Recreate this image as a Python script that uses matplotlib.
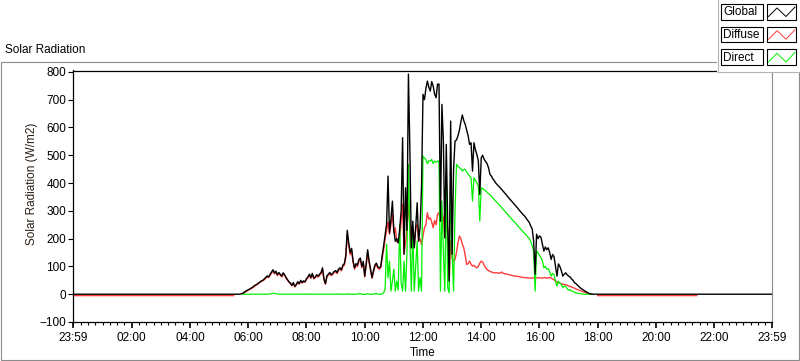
import numpy as np
import matplotlib
matplotlib.use("Agg")
import matplotlib.pyplot as plt
from matplotlib.patches import Rectangle
from matplotlib.lines import Line2D
from matplotlib.ticker import MultipleLocator, FixedLocator

plt.rcParams["font.family"] = ["Liberation Sans", "DejaVu Sans"]
plt.rcParams["font.size"] = 8.5

nan = np.nan

# =========================
# DATA (W/m2)
# =========================
# night before sunrise, hourly
AM_HOURS = [-0.017, 1, 2, 3, 4, 5]
AM_GLOBAL = [0, 0, 0, 0, 0, 0]
AM_DIFFUSE = [-5, -5, -5, -5, -5, -5]
AM_DIRECT = [nan, nan, nan, nan, nan, nan]

# daytime, every 3 minutes from 05:30 to 18:00
DAY_START_H = 5.5
DAY_STEP_MIN = 3

DAY_GLOBAL = [
    # 05:30
    0, 0, 0, 0, 0, 1, 3, 6, 10, 13, 16, 19, 22, 25, 30, 33, 36, 40, 44, 48,
    # 06:30
    50, 55, 60, 66, 62, 72, 80, 88, 76, 83, 70, 78, 72, 65, 77, 70, 60, 52, 45, 40,
    # 07:30
    32, 42, 28, 35, 45, 38, 50, 42, 48, 45, 56, 62, 72, 60, 75, 58, 62, 70, 65, 72,
    # 08:30
    78, 95, 55, 38, 65, 72, 78, 70, 75, 82, 85, 78, 90, 95, 88, 105, 110, 140, 230, 185,
    # 09:30
    150, 165, 120, 95, 110, 105, 125, 130, 100, 118, 65, 110, 160, 120, 90, 60, 85, 105, 112, 98,
    # 10:30
    95, 100, 140, 175, 215, 252, 425, 220, 270, 335, 230, 190, 200, 185, 234, 300, 563, 144, 383, 230,
    # 11:30
    792, 520, 167, 263, 167, 240, 329, 191, 240, 383, 719, 700, 740, 767, 745, 731, 765, 749, 720, 707,
    # 12:30
    756, 756, 263, 683, 550, 203, 539, 250, 47, 623, 144, 450, 551, 555, 570, 590, 620, 645, 625, 611,
    # 13:30
    590, 570, 539, 545, 443, 545, 520, 503, 480, 359, 491, 500, 485, 478, 470, 455, 431, 425, 415, 408,
    # 14:30
    400, 394, 389, 383, 377, 371, 365, 359, 352, 346, 340, 334, 328, 322, 316, 310, 303, 297, 291, 285,
    # 15:30
    280, 272, 265, 258, 245, 235, 191, 72, 216, 200, 210, 205, 180, 155, 170, 160, 167, 150, 125, 143,
    # 16:30
    135, 100, 65, 109, 100, 85, 65, 72, 77, 70, 65, 62, 55, 50, 42, 38, 33, 28, 23, 19,
    # 17:30
    16, 12, 9, 6, 3, 1, 0, 0, 0, 0, 0,
]

DAY_DIFFUSE = [
    # 05:30
    -5, nan, nan, nan, nan, nan, 2, 5, 8, 11, 14, 17, 20, 23, 27, 31, 34, 38, 42, 46,
    # 06:30
    48, 52, 57, 63, 60, 68, 76, 84, 73, 80, 67, 74, 69, 62, 73, 67, 57, 50, 43, 38,
    # 07:30
    30, 39, 26, 33, 42, 36, 47, 40, 45, 43, 53, 59, 68, 57, 71, 55, 59, 66, 62, 68,
    # 08:30
    74, 90, 52, 36, 62, 68, 74, 67, 71, 78, 81, 74, 86, 90, 84, 100, 104, 132, 215, 175,
    # 09:30
    142, 156, 114, 90, 104, 99, 118, 123, 95, 112, 62, 104, 150, 113, 85, 57, 80, 99, 106, 93,
    # 10:30
    90, 95, 130, 160, 200, 227, 260, 216, 250, 288, 220, 239, 190, 185, 200, 260, 323, 144, 185, 230,
    # 11:30
    323, 250, 167, 197, 167, 240, 251, 191, 200, 179, 210, 239, 250, 293, 270, 275, 260, 239, 265, 250,
    # 12:30
    288, 293, 263, 293, 275, 203, 275, 230, 47, 191, 130, 119, 125, 150, 185, 209, 200, 180, 167, 140,
    # 13:30
    107, 110, 119, 108, 101, 104, 98, 95, 100, 112, 119, 115, 105, 95, 89, 85, 82, 80, 78, 77,
    # 14:30
    77, 77, 76, 76, 80, 75, 74, 73, 72, 70, 69, 68, 66, 65, 65, 64, 63, 62, 61, 60,
    # 15:30
    60, 59, 59, 58, 58, 59, 58, 58, 59, 59, 59, 58, 58, 59, 60, 58, 59, 60, 58, 55,
    # 16:30
    52, 48, 44, 41, 40, 38, 36, 35, 34, 32, 30, 28, 26, 24, 22, 19, 17, 15, 13, 11,
    # 17:30
    9, 7, 5, 3, 2, 1, 0, nan, nan, nan, -5,
]

DAY_DIRECT = [
    # 05:30
    nan, nan, nan, nan, nan, nan, 0, 0, 0, 0, 0, 0, 0, 0, 0, 0, 0, 0, 0, 0,
    # 06:30
    0, 0, 0, 0, 0, 1, 2, 3, 3, 2, 1, 0, 0, 0, 0, 0, 0, 0, 0, 0,
    # 07:30
    0, 0, 0, 1, 0, 0, 0, 0, 0, 0, 0, 0, 1, 0, 0, 0, 0, 0, 0, 0,
    # 08:30
    0, 0, 0, 0, 0, 0, 0, 0, 0, 0, 0, 1, 0, 0, 0, 0, 0, 0, 2, 0,
    # 09:30
    0, 0, 0, 0, 0, 0, 2, 2, 0, 0, -1, 0, 2, 0, 0, 0, 0, 2, 2, 0,
    # 10:30
    0, 0, 2, 5, 20, 180, 59, 119, 11, 47, 90, 11, 47, 15, 251, 40, 11, 119, 11, 150,
    # 11:30
    467, 200, 11, 239, 11, 100, 191, 11, 60, 11, 497, 490, 485, 470, 480, 479, 485, 470, 479, 475,
    # 12:30
    479, 479, 11, 335, 150, 11, 431, 23, 5, 400, 155, 11, 300, 467, 461, 455, 452, 443, 449, 449,
    # 13:30
    440, 432, 425, 420, 335, 419, 410, 400, 390, 263, 383, 380, 376, 372, 367, 362, 358, 352, 346, 340,
    # 14:30
    335, 329, 324, 318, 312, 306, 300, 294, 288, 282, 276, 270, 264, 259, 253, 247, 241, 235, 229, 223,
    # 15:30
    218, 212, 206, 200, 190, 175, 155, 11, 155, 149, 140, 131, 120, 95, 100, 90, 92, 80, 65, 75,
    # 16:30
    70, 45, 29, 47, 40, 35, 23, 30, 28, 20, 14, 16, 12, 10, 7, 5, 4, 3, 2, 1,
    # 17:30
    1, 0, 0, 0, 0, 0, 0, nan, nan, nan, nan,
]

# night after sunset, hourly
PM_HOURS = [19, 20, 21, 21.4, 22, 23, 23.983]
PM_GLOBAL = [0, 0, 0, 0, 0, 0, 0]
PM_DIFFUSE = [-5, -5, -5, -5, nan, nan, nan]
PM_DIRECT = [nan, nan, nan, nan, nan, nan, nan]

XTICK_POS = [-1 / 60, 2, 4, 6, 8, 10, 12, 14, 16, 18, 20, 22, 24 - 1 / 60]
XTICK_LABELS = ["23:59", "02:00", "04:00", "06:00", "08:00", "10:00", "12:00",
                "14:00", "16:00", "18:00", "20:00", "22:00", "23:59"]

SERIES = ["Global", "Diffuse", "Direct"]
COLORS = {"Global": "#000000", "Diffuse": "#ff3c3c", "Direct": "#00f000"}

# =========================
# BUILD TIME SERIES
# =========================
day_hours = DAY_START_H + np.arange(len(DAY_GLOBAL)) * DAY_STEP_MIN / 60.0
hours = np.concatenate([AM_HOURS, day_hours, PM_HOURS])
values = {
    "Global": np.concatenate([AM_GLOBAL, DAY_GLOBAL, PM_GLOBAL]).astype(float),
    "Diffuse": np.concatenate([AM_DIFFUSE, DAY_DIFFUSE, PM_DIFFUSE]).astype(float),
    "Direct": np.concatenate([AM_DIRECT, DAY_DIRECT, PM_DIRECT]).astype(float),
}

# =========================
# FIGURE
# =========================
W, H = 800, 361
fig = plt.figure(figsize=(W / 100, H / 100), dpi=100)
fig.patch.set_facecolor("white")


def fx(x):
    return x / W


def fy(y):
    return 1 - y / H


# outer frame
fig.add_artist(Rectangle((fx(0.5), fy(360)), fx(798), fy(61.5) - fy(360),
                         transform=fig.transFigure, fill=False,
                         edgecolor="#8c8c8c", lw=0.8, zorder=0))

ax = fig.add_axes([fx(73), fy(322), fx(772) - fx(73), fy(70.5) - fy(322)])
ax.set_facecolor("white")

# draw order: diffuse, direct, global on top
LW = {"Diffuse": 1.0, "Direct": 0.9, "Global": 1.0}
for name in ["Diffuse", "Direct", "Global"]:
    ax.plot(hours, values[name], color=COLORS[name], lw=LW[name])

ax.set_xlim(-1 / 60, 24 - 1 / 60)
ax.set_ylim(-100, 805)

ax.yaxis.set_major_locator(FixedLocator(np.arange(-100, 801, 100)))
ax.xaxis.set_major_locator(FixedLocator(XTICK_POS))
ax.set_xticklabels(XTICK_LABELS)
ax.xaxis.set_minor_locator(MultipleLocator(0.25))

ax.tick_params(axis="y", which="major", length=3.8, width=0.8, pad=1, labelsize=8.5)
ax.tick_params(axis="x", which="major", length=4, width=1.2, pad=3, labelsize=8.5)
ax.tick_params(axis="x", which="minor", length=2.2, width=0.8)

for side in ["left", "bottom", "top"]:
    ax.spines[side].set_color("black")
    ax.spines[side].set_linewidth(0.9)
ax.spines["right"].set_color("#8c8c8c")
ax.spines["right"].set_linewidth(0.8)

fig.text(fx(32), fy(184), "Solar Radiation (W/m2)", rotation=90,
         ha="center", va="center", fontsize=8.5, color="#2a1f14")
fig.text(fx(422.5), fy(353), "Time", ha="center", va="center", fontsize=8.5)
fig.text(fx(5), fy(50), "Solar Radiation", ha="left", va="center", fontsize=8.5)

# =========================
# LEGEND PANEL (top right)
# =========================
fig.add_artist(Rectangle((fx(717), fy(72)), fx(83), fy(0) - fy(72) + 0.01,
                         transform=fig.transFigure, facecolor="white",
                         edgecolor="none", zorder=5))
fig.add_artist(Line2D([fx(717.5), fx(717.5)], [fy(0), fy(72)],
                      transform=fig.transFigure, color="#b4b4b4", lw=0.8, zorder=6))
fig.add_artist(Line2D([fx(717.5), fx(800)], [fy(72), fy(72)],
                      transform=fig.transFigure, color="#b4b4b4", lw=0.8, zorder=6))

for i, name in enumerate(SERIES):
    top = 4 + i * 22.7
    bot = top + 15.5
    fig.add_artist(Rectangle((fx(721), fy(bot)), fx(763) - fx(721), fy(top) - fy(bot),
                             transform=fig.transFigure, facecolor="white",
                             edgecolor="black", lw=0.8, zorder=7))
    fig.text(fx(723), fy((top + bot) / 2 + 0.5), name, ha="left", va="center",
             fontsize=8.5, zorder=8)
    fig.add_artist(Rectangle((fx(767), fy(bot)), fx(796) - fx(767), fy(top) - fy(bot),
                             transform=fig.transFigure, facecolor="white",
                             edgecolor="black", lw=0.8, zorder=7))
    zx = [768.5, 777, 786, 795]
    zy = [bot - 3, top + 4, bot - 3, top + 3]
    fig.add_artist(Line2D([fx(v) for v in zx], [fy(v) for v in zy],
                          transform=fig.transFigure, color=COLORS[name],
                          lw=0.7, zorder=8))

fig.savefig("out.png", dpi=100)
